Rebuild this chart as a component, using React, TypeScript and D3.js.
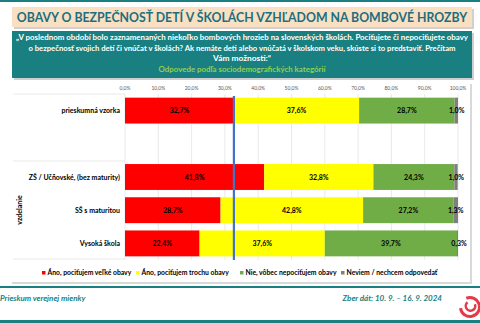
import React from "react";
import * as d3 from "d3";

const categories = ["prieskumná vzorka", "", "ZŠ / Učňovské,  (bez maturity)", "SŠ s maturitou", "Vysoká škola"];
const seriesNames = ["Áno, pociťujem veľké obavy", "Áno, pociťujem trochu obavy", "Nie, vôbec nepociťujem obavy", "Neviem / nechcem odpovedať"];
const seriesColors = ["#FF0000", "#FFFF00", "#70AD47", "#7F7F7F"];
const veľké = [32.7, null, 41.8, 28.7, 22.4];
const trochu = [37.6, null, 32.8, 42.8, 37.6];
const nie = [28.7, null, 24.3, 27.2, 39.7];
const neviem = [1.0, null, 1.0, 1.3, 0.3];
const ticks = [0, 10, 20, 30, 40, 50, 60, 70, 80, 90, 100];
const referenceValue = 32.7;

const questionLines = [
  "„V poslednom období bolo zaznamenaných niekoľko bombových hrozieb na slovenských školách. Pociťujete či nepociťujete obavy",
  "o bezpečnosť svojich detí či vnúčat v školách? Ak nemáte deti alebo vnúčatá v školskom veku, skúste si to predstaviť. Prečítam",
  "Vám možnosti:“",
];

const TEAL = "#1A7F80";
const FONT = "Lato, 'Open Sans', sans-serif";

export default function App() {
  const x = d3.scaleLinear().domain([0, 100]).range([125, 458]);
  const y = d3.scaleBand().domain(categories.map((c, i) => String(i))).range([94, 260]).paddingInner(0.22).paddingOuter(0.11);
  const series = [veľké, trochu, nie, neviem];
  const fmt = (v: number) => v.toFixed(1).replace(".", ",") + "%";

  const rows = categories.map((c, i) => {
    let acc = 0;
    const segs = series.map((s, k) => {
      const v = s[i];
      if (v == null) return null;
      const seg = { k, x0: acc, x1: acc + v, v };
      acc += v;
      return seg;
    }).filter(Boolean) as { k: number; x0: number; x1: number; v: number }[];
    return { c, i, segs };
  });

  const legendX = [42, 136, 240, 341];

  return (
    <svg width={480} height={323} style={{ position: "absolute", left: 0, top: 0, fontFamily: FONT }}>
      <rect x={0} y={0} width={480} height={323} fill="#fff" />
      <rect x={0} y={0} width={480} height={2} fill={TEAL} />
      {/* title */}
      <rect x={14} y={9} width={460} height={20} fill="#d0d0d0" />
      <rect x={12} y={7} width={460} height={20} fill="#F9E0C2" />
      <text transform="translate(242,21.8) scale(1.07,1.2)" textAnchor="middle" fontSize={11.5} fontWeight={700} fill="#1B6F80">
        OBAVY O BEZPEČNOSŤ DETÍ V ŠKOLÁCH VZHĽADOM NA BOMBOVÉ HROZBY
      </text>
      {/* question box */}
      <rect x={14} y={33} width={460} height={47} fill="#cfcfcf" />
      <rect x={12} y={31} width={460} height={47} fill={TEAL} />
      {questionLines.map((l, i) => (
        <text key={i} x={242} y={40 + i * 10.5} textAnchor="middle" fontSize={7.6} fontWeight={700} fill="#fff"
          textLength={i === 0 ? 452 : i === 1 ? 427 : 58} lengthAdjust="spacingAndGlyphs">{l}</text>
      ))}
      <text x={242} y={72} textAnchor="middle" fontSize={7.8} fontWeight={700} fill="#92D050" textLength={167} lengthAdjust="spacingAndGlyphs">Odpovede podľa sociodemografických kategórií</text>
      {/* panel */}
      <rect x={12} y={84} width={460} height={200} fill="#d9d9d9" />
      <rect x={10} y={82} width={460} height={200} fill="#fff" />
      {/* gridlines */}
      {ticks.map((t) => (
        <g key={t}>
          <line x1={x(t)} x2={x(t)} y1={94} y2={260} stroke="#e3e3e3" strokeWidth={0.8} />
          <text x={x(t)} y={90} textAnchor="middle" fontSize={5} fill="#595959">{t.toFixed(1).replace(".", ",") + "%"}</text>
        </g>
      ))}
      {[94, 161, 259].map((yy) => (
        <line key={yy} x1={13} x2={125} y1={yy} y2={yy} stroke="#e3e3e3" strokeWidth={0.8} />
      ))}
      {/* bars */}
      {rows.map((r) => (
        <g key={r.i}>
          {r.c && (
            <text x={120} y={(y(String(r.i)) as number) + y.bandwidth() / 2 + 2.5} textAnchor="end" fontSize={7} fontWeight={700} fill="#000">{r.c}</text>
          )}
          {r.segs.map((s) => (
            <rect key={s.k} x={x(s.x0)} y={y(String(r.i))} width={x(s.x1) - x(s.x0)} height={y.bandwidth()} fill={seriesColors[s.k]} />
          ))}
          {r.segs.map((s) => (
            <text key={"t" + s.k} x={s.k === 3 ? x(s.x0) + 2 : (x(s.x0) + x(s.x1)) / 2} y={(y(String(r.i)) as number) + y.bandwidth() / 2 + 2.5}
              textAnchor="middle" fontSize={7} fontWeight={700} fill="#000">{fmt(s.v)}</text>
          ))}
        </g>
      ))}
      <line x1={x(referenceValue)} x2={x(referenceValue)} y1={96} y2={260} stroke="#4472C4" strokeWidth={2.2} />
      <text transform={`translate(22,210) rotate(-90)`} textAnchor="middle" fontSize={7} fontWeight={700} fill="#000">vzdelanie</text>
      {/* legend */}
      {seriesNames.map((n, k) => (
        <g key={n}>
          <rect x={legendX[k]} y={271} width={3.5} height={3.5} fill={seriesColors[k]} />
          <text x={legendX[k] + 5.5} y={275} fontSize={6.8} fontWeight={700} fill="#000">{n}</text>
        </g>
      ))}
      {/* footer */}
      <rect x={0} y={286} width={480} height={2} fill={TEAL} />
      <text x={0} y={301} fontSize={8} fontWeight={700} fontStyle="italic" fill={TEAL}>Prieskum verejnej mienky</text>
      <text x={442} y={301} textAnchor="end" fontSize={8} fontWeight={700} fontStyle="italic" fill={TEAL}>Zber dát: 10. 9. – 16. 9. 2024</text>
      <g>
        <path d={d3.arc()({ innerRadius: 8, outerRadius: 11, startAngle: -0.4, endAngle: 4.6 }) as string} transform="translate(470,307)" fill="#E63A46" />
        <path d={d3.arc()({ innerRadius: 3.5, outerRadius: 6, startAngle: 1.2, endAngle: 5.6 }) as string} transform="translate(470.5,306)" fill="#E63A46" />
      </g>
      <rect x={0} y={320} width={480} height={3} fill={TEAL} />
    </svg>
  );
}
